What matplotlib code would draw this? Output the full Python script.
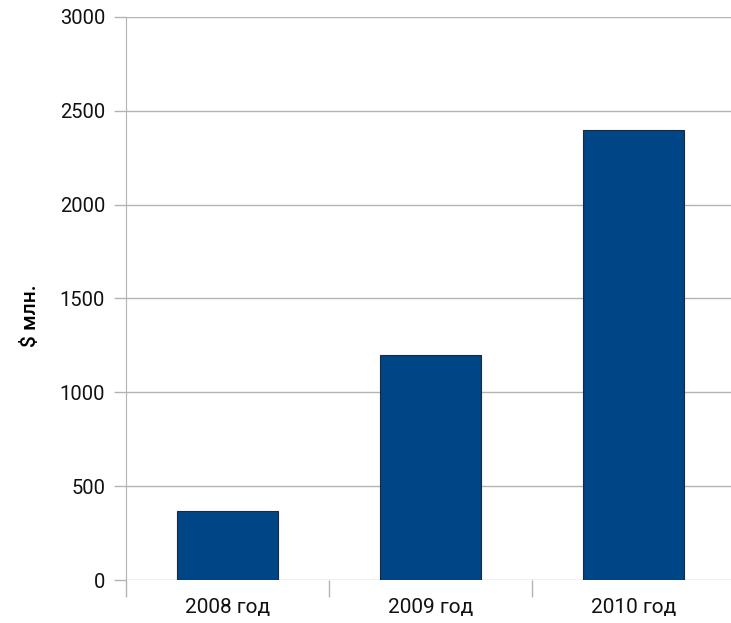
import matplotlib
matplotlib.use("Agg")
import matplotlib.pyplot as plt
import numpy as np

categories = ["2008 год", "2009 год", "2010 год"]
values = [370, 1200, 2400]
y_ticks = [0, 500, 1000, 1500, 2000, 2500, 3000]

plt.rcParams["font.family"] = ["Roboto", "DejaVu Sans"]

W, H = 731, 623
fig = plt.figure(figsize=(W / 100, H / 100), dpi=100)
ax = fig.add_axes([126 / W, (H - 580) / H, 609 / W, 563 / H])

x = np.arange(len(categories))
ax.bar(x, values, width=0.5, color="#004586", edgecolor="#1a2a3a", linewidth=0.8, zorder=3)

ax.set_xlim(-0.5, len(categories) - 0.5)
ax.set_ylim(0, 3000)
ax.set_yticks(y_ticks)
ax.set_yticklabels([str(v) for v in y_ticks], fontsize=14.5, color="#111111")
ax.yaxis.grid(True, color="#b3b3b3", linewidth=1, zorder=0)

ax.set_xticks(x)
ax.set_xticklabels(categories, fontsize=15, color="#111111")
ax.tick_params(axis="x", which="major", length=0, pad=13)
ax.set_xticks(np.arange(len(categories) + 1) - 0.5, minor=True)
ax.tick_params(axis="x", which="minor", length=12, color="#b3b3b3", width=1)
ax.tick_params(axis="y", length=9, color="#b3b3b3", width=1, pad=6)

for side in ("top", "right", "bottom"):
    ax.spines[side].set_visible(False)
ax.spines["left"].set_color("#b3b3b3")

ax.set_ylabel("$ млн.", fontsize=15, fontweight="medium", labelpad=14, y=0.47)

fig.savefig("out.png", dpi=100, facecolor="white")
